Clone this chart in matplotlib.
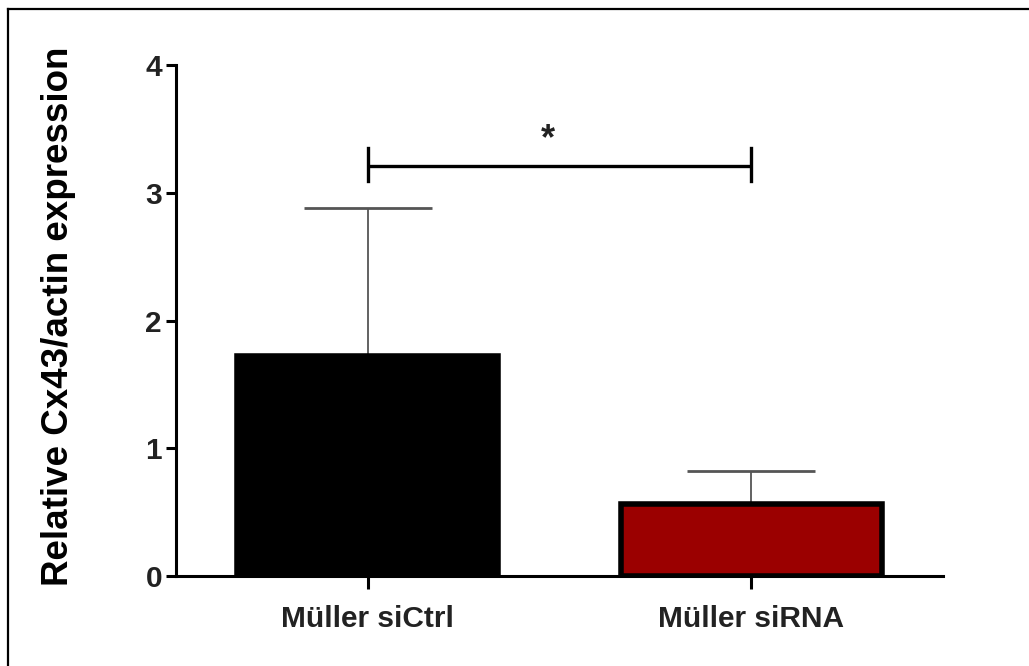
import matplotlib
matplotlib.use("Agg")
import matplotlib.pyplot as plt
from matplotlib.lines import Line2D

plt.rcParams['font.family'] = ['Liberation Sans', 'DejaVu Sans']

# data
groups = ["Müller siCtrl", "Müller siRNA"]
means = [1.72, 0.56]
errUp = [1.16, 0.26]
barColors = ["#000000", "#9b0000"]
yTicks = [0, 1, 2, 3, 4]
sigLabel = "*"
sigY = 3.21

fig = plt.figure(figsize=(10.29, 6.66), dpi=100)
ax = fig.add_axes([0.171, 0.1351, 0.7454, 0.7673])

x = list(range(len(groups)))
# error bars first (only upper half, Prism style), bars drawn on top
ax.errorbar(x, means, yerr=[[0] * len(errUp), errUp], fmt='none',
            ecolor="#555555", elinewidth=1.3, capsize=46, capthick=2.0, zorder=1)
ax.bar(x, means, width=0.68, color=barColors, edgecolor="black",
       linewidth=4.0, zorder=2)

# significance bracket
ax.plot([0, 1], [sigY, sigY], color="black", lw=2.4, zorder=3, solid_capstyle='butt')
for xi in [0, 1]:
    ax.plot([xi, xi], [sigY - 0.12, sigY + 0.14], color="black", lw=2.4, zorder=3)
ax.text(0.47, sigY + 0.07, sigLabel, ha="center", va="bottom",
        fontsize=26, fontweight="bold", color="#222222")

ax.set_xlim(-0.5, 1.5)
ax.set_ylim(0, 4)
ax.set_yticks(yTicks)
ax.set_xticks(x)
ax.set_xticklabels(groups)

for side in ["top", "right"]:
    ax.spines[side].set_visible(False)
for side in ["left", "bottom"]:
    ax.spines[side].set_linewidth(2.2)
ax.tick_params(axis="both", width=2.2, length=7, labelsize=21.5, colors="black")
ax.tick_params(axis="x", length=9, pad=12)
ax.tick_params(axis="y", pad=3)
for lab in ax.get_xticklabels() + ax.get_yticklabels():
    lab.set_fontweight("bold")
    lab.set_color("#222222")

ax.set_ylabel("Relative Cx43/actin expression", fontsize=26.5, fontweight="bold")
ax.yaxis.set_label_coords(-0.13, 0.508)

# frame lines at the left and top edges of the picture
fig.add_artist(Line2D([7.5 / 1029, 7.5 / 1029], [0, 1 - 9 / 666], color="black", lw=1.6,
                      transform=fig.transFigure))
fig.add_artist(Line2D([7.5 / 1029, 1], [1 - 9 / 666, 1 - 9 / 666], color="black", lw=1.6,
                      transform=fig.transFigure))

fig.savefig("out.png", dpi=100)
